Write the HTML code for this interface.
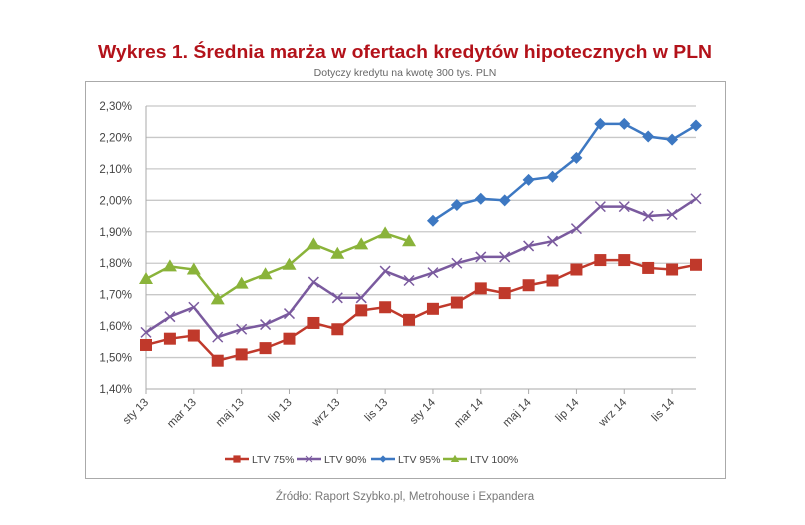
<!DOCTYPE html>
<html><head><meta charset="utf-8"><style>
html,body{margin:0;padding:0;background:#fff;}
svg{display:block;font-family:"Liberation Sans",sans-serif;}
</style></head><body>
<svg id="chart" width="805" height="525" viewBox="0 0 805 525">
<text x="405" y="58" text-anchor="middle" font-size="18" font-weight="bold" fill="#b3121a" textLength="614" lengthAdjust="spacingAndGlyphs">Wykres 1. Średnia marża w ofertach kredytów hipotecznych w PLN</text>
<text x="405" y="76" text-anchor="middle" font-size="10.5" fill="#666">Dotyczy kredytu na kwotę 300 tys. PLN</text>
<rect x="85.5" y="81.5" width="640" height="397" fill="none" stroke="#aaa"/>
<g id="grid"></g><g id="axes"></g><g id="series"></g>
<g id="legend"></g>
<text x="405" y="500" text-anchor="middle" font-size="11.5" fill="#777">Źródło: Raport Szybko.pl, Metrohouse i Expandera</text>
</svg>
<script>
const categories = ["sty 13","lut 13","mar 13","kwi 13","maj 13","cze 13","lip 13","sie 13","wrz 13","paź 13","lis 13","gru 13","sty 14","lut 14","mar 14","kwi 14","maj 14","cze 14","lip 14","sie 14","wrz 14","paź 14","lis 14","gru 14"];
const ltv75 = [1.54,1.56,1.57,1.49,1.51,1.53,1.56,1.61,1.59,1.65,1.66,1.62,1.655,1.675,1.72,1.705,1.73,1.745,1.78,1.81,1.81,1.785,1.78,1.795];
const ltv90 = [1.58,1.63,1.66,1.565,1.59,1.605,1.64,1.74,1.69,1.69,1.775,1.745,1.77,1.80,1.82,1.82,1.855,1.87,1.91,1.98,1.98,1.95,1.955,2.005];
const ltv95 = [null,null,null,null,null,null,null,null,null,null,null,null,1.935,1.985,2.005,2.00,2.065,2.075,2.135,2.243,2.243,2.203,2.193,2.238];
const ltv100 = [1.75,1.79,1.78,1.685,1.735,1.765,1.795,1.86,1.83,1.86,1.895,1.87,null,null,null,null,null,null,null,null,null,null,null,null];
const yTicks = [1.40,1.50,1.60,1.70,1.80,1.90,2.00,2.10,2.20,2.30];
const yTickLabels = ["1,40%","1,50%","1,60%","1,70%","1,80%","1,90%","2,00%","2,10%","2,20%","2,30%"];
const seriesNames = ["LTV 75%","LTV 90%","LTV 95%","LTV 100%"];

const NS="http://www.w3.org/2000/svg";
const L=146,R=696,T=106,B=389,yMin=1.4,yMax=2.3;
const x=i=>L+i*(R-L)/(categories.length-1);
const y=v=>B-(v-yMin)/(yMax-yMin)*(B-T);
function mk(t,a,p){const e=document.createElementNS(NS,t);for(const k in a)e.setAttribute(k,a[k]);p.appendChild(e);return e;}
const grid=document.getElementById('grid'),axes=document.getElementById('axes'),ser=document.getElementById('series'),leg=document.getElementById('legend');
yTicks.forEach((v,i)=>{
  if(i>0){const g=mk('line',{x1:L,x2:R,y1:y(v),y2:y(v),stroke:'#c8c8c8','stroke-width':1.3},grid);
  
  }
  const t=mk('text',{x:L-14,y:y(v)+4,'text-anchor':'end','font-size':11.5,fill:'#444'},axes);t.textContent=yTickLabels[i];
  
  
});
const va=mk('line',{x1:L,x2:L,y1:T,y2:B,stroke:'#aaa'},axes);


const ha=mk('line',{x1:L,x2:R,y1:B,y2:B,stroke:'#aaa'},axes);


categories.forEach((c,i)=>{
  if(i%2)return;
  mk('line',{x1:x(i),x2:x(i),y1:B,y2:B+5,stroke:'#aaa'},axes);
  const t=mk('text',{x:x(i)+3,y:B+14,'text-anchor':'end','font-size':11.5,fill:'#444',transform:`rotate(-45 ${x(i)+3} ${B+14})`},axes);
  t.textContent=c;
  
  
});
const colors=['#c0392b','#7a5a9e','#3d78c2','#8ab33a'];
const marks=['square','x','diamond','triangle'];
function marker(type,cx,cy,col,p){
  if(type==='square')return mk('rect',{x:cx-6,y:cy-6,width:12,height:12,fill:col},p);
  if(type==='diamond')return mk('path',{d:`M${cx} ${cy-6}L${cx+6} ${cy}L${cx} ${cy+6}L${cx-6} ${cy}Z`,fill:col},p);
  if(type==='triangle')return mk('path',{d:`M${cx} ${cy-7}L${cx+7} ${cy+5}L${cx-7} ${cy+5}Z`,fill:col},p);
  return mk('path',{d:`M${cx-5} ${cy-5}L${cx+5} ${cy+5}M${cx-5} ${cy+5}L${cx+5} ${cy-5}`,stroke:col,'stroke-width':1.5},p);
}
[ltv75,ltv90,ltv95,ltv100].forEach((data,si)=>{
  const g=mk('g',{},ser);
  
  
  let d='';data.forEach((v,i)=>{if(v==null)return;d+=(d?'L':'M')+x(i)+' '+y(v);});
  const p=mk('path',{d,fill:'none',stroke:colors[si],'stroke-width':2.5},g);
  
  
  data.forEach((v,i)=>{if(v==null)return;const m=marker(marks[si],x(i),y(v),colors[si],g);
    
    });
});
const lx=[225,297,371,443];
seriesNames.forEach((n,i)=>{
  const g=mk('g',{},leg);
  
  
  mk('line',{x1:lx[i],x2:lx[i]+24,y1:459,y2:459,stroke:colors[i],'stroke-width':2.5},g);
  const m=marker(marks[i],lx[i]+12,459,colors[i],g);m.setAttribute('transform',`translate(${(lx[i]+12)*0.4} ${459*0.4}) scale(0.6)`);
  const t=mk('text',{x:lx[i]+27,y:463,'font-size':10.5,fill:'#444'},g);t.textContent=n;
});
</script>
</body></html>
